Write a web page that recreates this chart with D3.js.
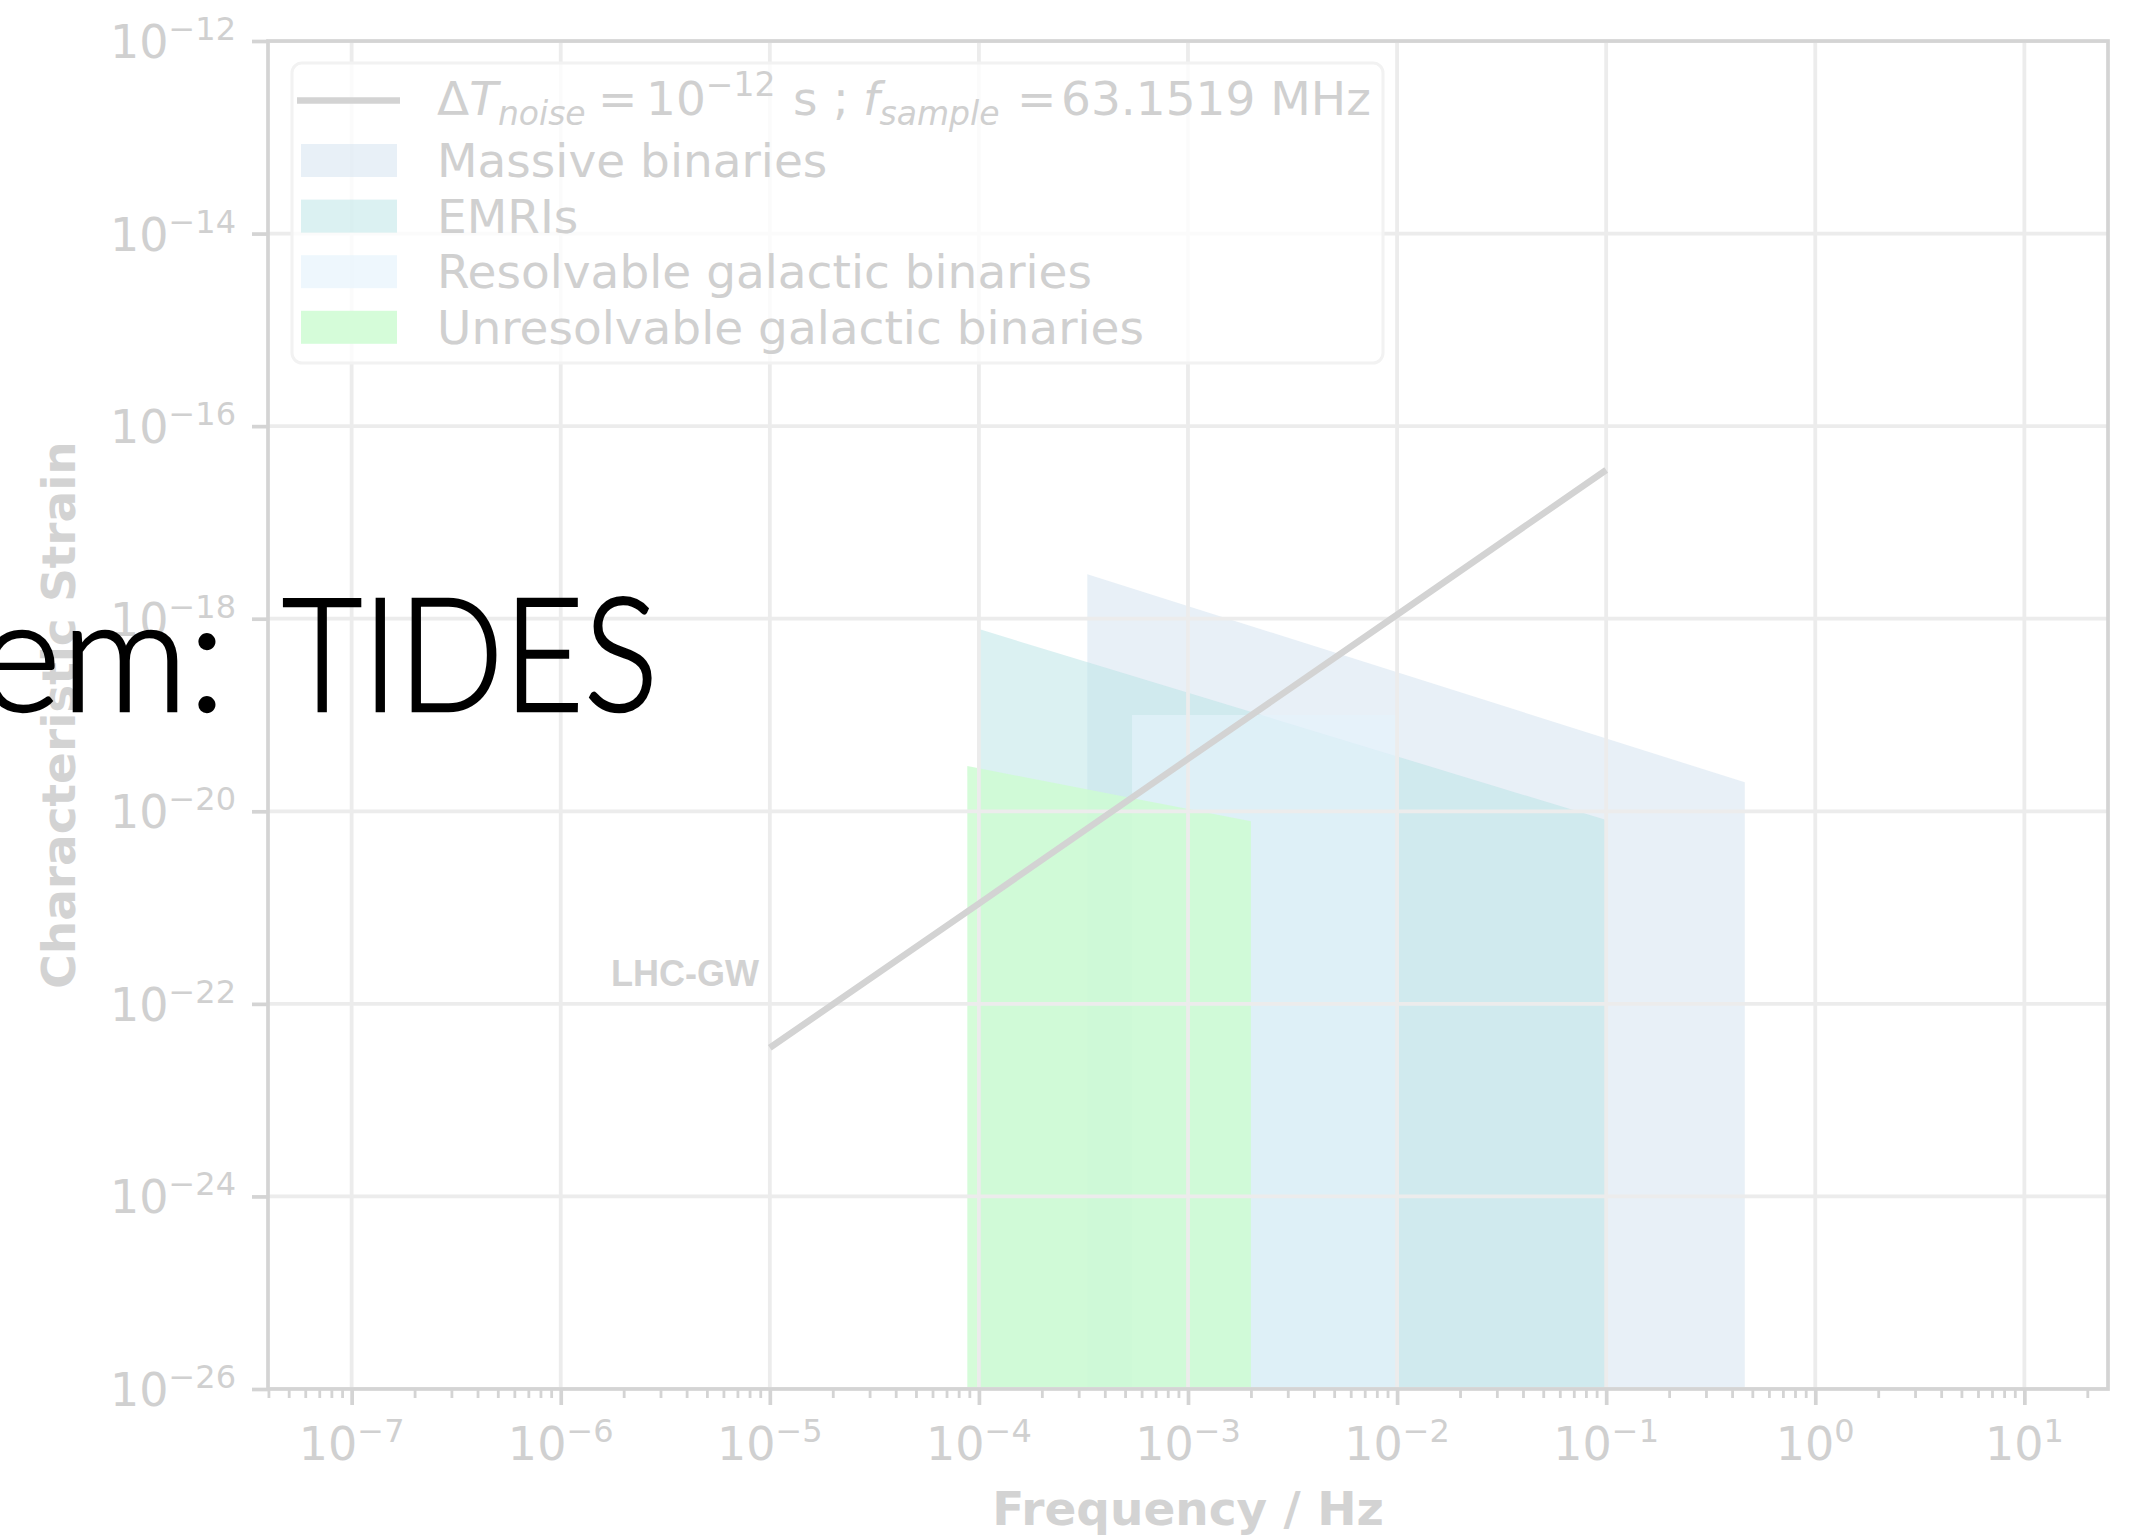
<!DOCTYPE html>
<html>
<head>
<meta charset="utf-8">
<script src="https://cdn.jsdelivr.net/npm/d3@7"></script>
<style>
  html, body { margin: 0; padding: 0; background: #fff; overflow: hidden; }
  svg { display: block; }
</style>
</head>
<body>
<script>
// tick decades (powers of ten)
const xDecades = [-7, -6, -5, -4, -3, -2, -1, 0, 1]
const yDecades = [-26, -24, -22, -20, -18, -16, -14, -12]

// noise curve, Delta T_noise = 1e-12 s
const noiseF = [1e-5, 1e-4, 1e-3, 1e-2, 1e-1]
const noiseH = [3.5e-23, 1.1e-21, 3.5e-20, 1.1e-18, 3.5e-17]

// source regions: upper edge, filled down to the bottom of the plot
const massiveF = [3.3e-4, 0.46]
const massiveH = [2.9e-18, 2.0e-20]
const emriF = [1e-4, 0.1]
const emriH = [7.8e-19, 8.1e-21]
const resolvF = [5.4e-4, 1e-2]
const resolvH = [1.0e-19, 1.0e-19]
const unresF = [8.8e-5, 2.0e-3]
const unresH = [2.95e-20, 7.9e-21]

const regionNames = ["Massive binaries", "EMRIs", "Resolvable galactic binaries", "Unresolvable galactic binaries"]

const W = 2146, H = 1536
const x0 = 268, x1 = 2108, y0 = 41, y1 = 1389

const svg = d3.select("body").append("svg")
    .attr("width", W)
    .attr("height", H)

const x = d3.scaleLog().domain([Math.pow(10, -7.4), Math.pow(10, 1.4)]).range([x0, x1])
const y = d3.scaleLog().domain([1e-26, 1e-12]).range([y1, y0])

const regions = [
  {f: massiveF, h: massiveH, fill: "rgb(209,225,239)", op: 0.5},
  {f: emriF, h: emriH, fill: "rgb(183,227,229)", op: 0.5},
  {f: resolvF, h: resolvH, fill: "rgb(229,243,252)", op: 0.65},
  {f: unresF, h: unresH, fill: "rgb(206,251,210)", op: 0.85}
]

svg.append("clipPath").attr("id", "plot")
  .append("rect").attr("x", x0).attr("y", y0).attr("width", x1 - x0).attr("height", y1 - y0)

const plot = svg.append("g").attr("clip-path", "url(#plot)")

const area = d3.area()
    .x(d => x(d[0]))
    .y0(y(1e-26))
    .y1(d => y(d[1]))

regions.forEach(r => {
  plot.append("path")
      .attr("d", area(d3.zip(r.f, r.h)))
      .attr("fill", r.fill)
      .attr("fill-opacity", r.op)
})

// grid above the patches, as matplotlib does
const grid = plot.append("g").attr("stroke", "#ececec").attr("stroke-width", 3.8)
xDecades.forEach(d => {
  grid.append("line")
      .attr("x1", x(Math.pow(10, d))).attr("x2", x(Math.pow(10, d)))
      .attr("y1", y0).attr("y2", y1)
})
yDecades.forEach(d => {
  grid.append("line")
      .attr("y1", y(Math.pow(10, d))).attr("y2", y(Math.pow(10, d)))
      .attr("x1", x0).attr("x2", x1)
})

const line = d3.line().x(d => x(d[0])).y(d => y(d[1]))
plot.append("path")
    .attr("d", line(d3.zip(noiseF, noiseH)))
    .attr("fill", "none")
    .attr("stroke", "#d3d3d3")
    .attr("stroke-width", 6.5)

plot.append("text")
    .attr("x", 611).attr("y", 986)
    .attr("font-family", "Liberation Sans, Arial, sans-serif")
    .attr("font-weight", "bold")
    .attr("font-size", 36)
    .attr("fill", "#d2d2d2")
    .text("LHC-GW")

// ticks
const minor = []
for (let d = -8; d <= 1; d++) {
  for (let k = 2; k <= 9; k++) {
    const v = k * Math.pow(10, d)
    if (v >= x.domain()[0] && v <= x.domain()[1]) minor.push(v)
  }
}

const tickColor = "#d4d4d4"
const xAxisMajor = d3.axisBottom(x).tickValues(xDecades.map(d => Math.pow(10, d))).tickSize(16).tickFormat("")
const xAxisMinor = d3.axisBottom(x).tickValues(minor).tickSize(9).tickFormat("")
const yAxisMajor = d3.axisLeft(y).tickValues(yDecades.map(d => Math.pow(10, d))).tickSize(16).tickFormat("")

function styleAxis(g, w) {
  g.select(".domain").remove()
  g.selectAll("line").attr("stroke", tickColor).attr("stroke-width", w)
}
svg.append("g").attr("transform", `translate(0,${y1})`).call(xAxisMajor).call(g => styleAxis(g, 3.7))
svg.append("g").attr("transform", `translate(0,${y1})`).call(xAxisMinor).call(g => styleAxis(g, 2.8))
svg.append("g").attr("transform", `translate(${x0},0)`).call(yAxisMajor).call(g => styleAxis(g, 3.7))

// spines
svg.append("rect")
    .attr("x", x0).attr("y", y0).attr("width", x1 - x0).attr("height", y1 - y0)
    .attr("fill", "none").attr("stroke", tickColor).attr("stroke-width", 3.7)

const labelColor = "#d0d0d0"
const font = "DejaVu Sans, sans-serif"

function powLabel(g, px, py, exp, anchor) {
  const t = g.append("text")
      .attr("x", px).attr("y", py)
      .attr("text-anchor", anchor)
      .attr("font-family", font)
      .attr("font-size", 46)
      .attr("fill", labelColor)
  t.append("tspan").text("10")
  t.append("tspan").attr("font-size", 32).attr("dy", -18)
      .text(exp < 0 ? "\u2212" + (-exp) : String(exp))
}

const labels = svg.append("g")
xDecades.forEach(d => powLabel(labels, x(Math.pow(10, d)), 1460, d, "middle"))
yDecades.forEach(d => powLabel(labels, 236, y(Math.pow(10, d)) + 17, d, "end"))

svg.append("text")
    .attr("x", (x0 + x1) / 2).attr("y", 1525)
    .attr("text-anchor", "middle")
    .attr("font-family", font).attr("font-weight", "bold").attr("font-size", 47)
    .attr("fill", "#d3d3d3")
    .text("Frequency / Hz")

svg.append("text")
    .attr("transform", `translate(75,${(y0 + y1) / 2}) rotate(-90)`)
    .attr("text-anchor", "middle")
    .attr("font-family", font).attr("font-weight", "bold").attr("font-size", 47)
    .attr("fill", "#d3d3d3")
    .text("Characteristic Strain")

// legend
const leg = svg.append("g")
leg.append("rect")
    .attr("x", 292).attr("y", 63).attr("width", 1091).attr("height", 300).attr("rx", 10)
    .attr("fill", "#fff").attr("fill-opacity", 0.8)
    .attr("stroke", "#f2f2f2").attr("stroke-width", 3)

leg.append("line")
    .attr("x1", 297).attr("x2", 400).attr("y1", 100.5).attr("y2", 100.5)
    .attr("stroke", "#d3d3d3").attr("stroke-width", 6.5)

const t1 = leg.append("text")
    .attr("font-family", font).attr("font-size", 47).attr("fill", labelColor)
t1.append("tspan").attr("x", 437).attr("y", 115).text("\u0394")
t1.append("tspan").attr("font-style", "italic").text("T")
t1.append("tspan").attr("font-style", "italic").attr("font-size", 33).attr("dy", 10).text("noise")
t1.append("tspan").attr("x", 598).attr("y", 115).text("=")
t1.append("tspan").attr("x", 646).attr("y", 115).text("10")
t1.append("tspan").attr("font-size", 33).attr("dy", -19).text("\u221212")
t1.append("tspan").attr("x", 793).attr("y", 115).text("s")
t1.append("tspan").attr("x", 833).attr("y", 115).text(";")
t1.append("tspan").attr("x", 863).attr("y", 115).attr("font-style", "italic").text("f")
t1.append("tspan").attr("font-style", "italic").attr("font-size", 33).attr("dy", 10).text("sample")
t1.append("tspan").attr("x", 1017).attr("y", 115).text("=")
t1.append("tspan").attr("x", 1061).attr("y", 115).text("63.1519 MHz")

regionNames.forEach((name, i) => {
  const r = regions[i]
  const top = 144 + i * 55.6
  leg.append("rect")
      .attr("x", 301).attr("y", top).attr("width", 96).attr("height", 33)
      .attr("fill", r.fill).attr("fill-opacity", r.op)
  leg.append("text")
      .attr("x", 437).attr("y", top + 33)
      .attr("font-family", font).attr("font-size", 47).attr("fill", labelColor)
      .text(name)
})

// slide title lying over the figure (light face thickened a little)
const title = svg.append("g")
    .attr("font-family", "Lato, sans-serif")
    .attr("font-weight", 300)
    .attr("font-size", 158)
    .attr("fill", "#000")
    .attr("stroke", "#000")
    .attr("stroke-width", 2.5)
title.append("text").attr("x", 226).attr("y", 711).attr("text-anchor", "end").text("em:")
title.append("text").attr("x", 282).attr("y", 711)
    .attr("textLength", 376).attr("lengthAdjust", "spacingAndGlyphs")
    .text("TIDES")
</script>
</body>
</html>
